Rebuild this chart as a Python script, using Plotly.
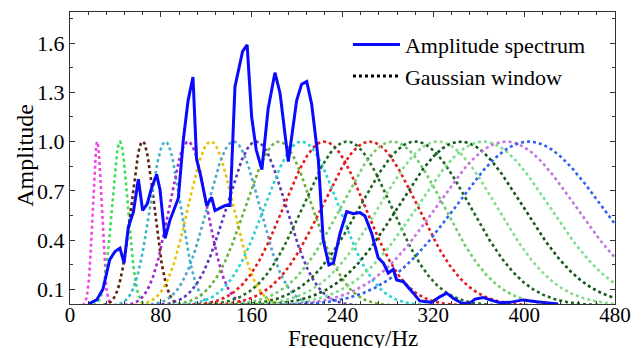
import math
import plotly.graph_objects as go

# ---- data ----
spec_freq = [16, 23.5, 29, 33, 35, 39.6, 44, 47.6, 51.4, 55.8, 60.2, 64, 68, 72, 76.3, 79.3,
             83.7, 88, 92.5, 95.4, 99.8, 104, 108.3, 111.5, 114.5, 120.4, 124.8, 127.7, 136.5,
             141, 145.3, 152, 156, 160, 164, 169, 174.5, 180.5, 185, 192.3, 199.6, 204, 208.5,
             212.8, 218.7, 223, 228, 232, 237.8, 243.7, 249.5, 255.4, 259.8, 265.7, 271.5, 276,
             280.3, 284.7, 287.7, 293.6, 302.4, 308, 318.5, 326, 331.8, 337.6, 345, 352, 356.7,
             364, 370, 378.7, 387.5, 399, 411, 430]
spec_amp = [0.01, 0.035, 0.10, 0.22, 0.28, 0.33, 0.35, 0.26, 0.48, 0.57, 0.77, 0.58, 0.62, 0.72,
            0.80, 0.705, 0.41, 0.52, 0.60, 0.655, 1.01, 1.25, 1.394, 0.89, 0.81, 0.61, 0.66, 0.58,
            0.61, 0.61, 1.335, 1.55, 1.59, 1.15, 0.95, 0.83, 1.20, 1.42, 1.295, 0.878, 1.25, 1.35,
            1.366, 1.23, 0.89, 0.40, 0.248, 0.26, 0.44, 0.573, 0.56, 0.567, 0.547, 0.44, 0.29,
            0.26, 0.198, 0.222, 0.157, 0.146, 0.076, 0.029, 0.02, 0.055, 0.076, 0.045, 0.015,
            0.015, 0.04, 0.05, 0.035, 0.018, 0.02, 0.035, 0.024, 0.01]

# centre frequencies of the Gaussian windows (Hz), read from the peaks
win_centers = [24, 44, 64, 84, 104, 124, 144, 164, 184, 204,
               224, 244, 264, 284, 304, 324, 344, 364, 384, 404]
win_colors = ["#f545e2", "#3ddc5a", "#5e200c", "#3cb6c8", "#a624d2", "#e6c200", "#4ea6c8",
              "#5a36b8", "#6cb03c", "#2ad2d2", "#e41c1c", "#1f6e24", "#e41c1c", "#72cc6c",
              "#1a641e", "#86dc8a", "#12561a", "#78e08c", "#c276e0", "#2e62f2"]

x_ticks = [0, 80, 160, 240, 320, 400, 480]
y_ticks = [0.1, 0.4, 0.7, 1.0, 1.3, 1.6]
y_ticklabels = ["0.1", "0.4", "0.7", "1.0", "1.3", "1.6"]

FONT = "Liberation Serif"

fig = go.Figure()
fgrid = [i * 0.5 for i in range(961)]
for c, col in zip(win_centers, win_colors):
    sigma = c / (2 * math.pi)
    xs, ys = [], []
    for f in fgrid:
        v = math.exp(-((f - c) ** 2) / (2 * sigma ** 2))
        if v > 0.003:
            xs.append(f)
            ys.append(round(v, 5))
    fig.add_trace(go.Scatter(x=xs, y=ys, mode="lines",
                             line=dict(color=col, width=2.6, dash="dot"),
                             showlegend=False, hoverinfo="skip"))

fig.add_trace(go.Scatter(x=spec_freq, y=spec_amp, mode="lines", name="Amplitude spectrum",
                         line=dict(color="#0a0aff", width=3)))
fig.add_trace(go.Scatter(x=[-50, -40], y=[-1, -1], mode="lines", name="Gaussian window",
                         line=dict(color="black", width=3, dash="dot")))

fig.update_layout(
    width=644, height=348,
    margin=dict(l=70, r=29, t=12, b=44),
    paper_bgcolor="white", plot_bgcolor="white",
    font=dict(family=FONT, size=21, color="black"),
    legend=dict(x=0.51, y=0.96, xanchor="left", yanchor="top", itemwidth=47,
                bgcolor="rgba(0,0,0,0)", font=dict(size=22, family=FONT)),
    showlegend=True,
)
fig.add_annotation(text="Frequency/Hz", xref="paper", yref="paper", x=0.519, y=-0.118,
                   xanchor="center", yanchor="middle", showarrow=False,
                   font=dict(size=23, family=FONT, color="black"))
fig.add_annotation(text="Amplitude", xref="paper", yref="paper", x=-0.083, y=0.51,
                   xanchor="center", yanchor="middle", showarrow=False, textangle=-90,
                   font=dict(size=24, family=FONT, color="black"))
fig.update_xaxes(range=[0, 480], tickvals=x_ticks, ticktext=[str(v) for v in x_ticks],
                 showgrid=False, zeroline=False, showline=True, linecolor="#333",
                 linewidth=1.2, mirror="ticks", ticks="inside", ticklen=5, tickcolor="#333",
                 minor=dict(tick0=0, dtick=16, ticks="inside", ticklen=3, tickcolor="#333"),
                 automargin=False, tickfont=dict(size=21, family=FONT), ticklabelstandoff=-8)
fig.update_yaxes(range=[0.01, 1.79], tickvals=y_ticks, ticktext=y_ticklabels,
                 showgrid=False, zeroline=False, showline=True, linecolor="#333",
                 linewidth=1.2, mirror="ticks", ticks="inside", ticklen=5, tickcolor="#333",
                 minor=dict(tick0=0.1, dtick=0.15, ticks="inside", ticklen=3, tickcolor="#333"),
                 automargin=False, tickfont=dict(size=22, family=FONT))

post = ("document.querySelectorAll('svg text').forEach(function(t){"
        "t.style.fontFamily='\"Liberation Serif\", \"Times New Roman\", serif';});")
fig.write_html("out.html", post_script=post)
